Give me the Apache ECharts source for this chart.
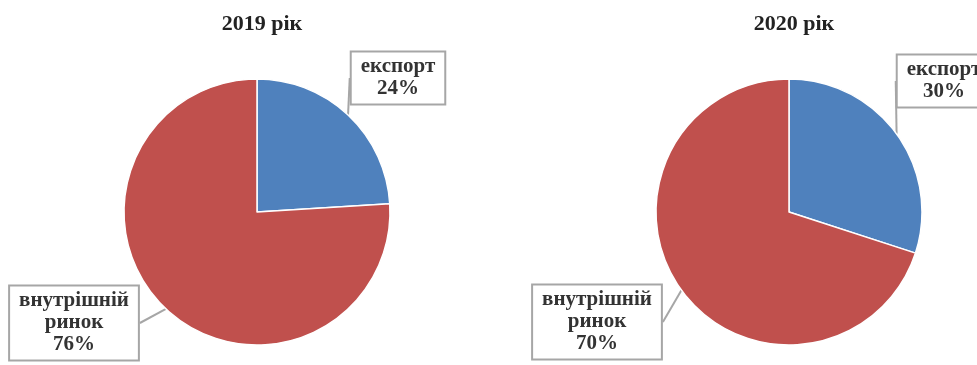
<!DOCTYPE html>
<html>
<head>
<meta charset="utf-8">
<script src="https://cdn.jsdelivr.net/npm/echarts@6/dist/echarts.min.js"></script>
<style>
  html, body { margin: 0; padding: 0; background: #fff; }
  #chart { width: 977px; height: 365px; }
</style>
</head>
<body>
<div id="chart"></div>
<script>
// data
const years = ["2019 рік", "2020 рік"];
const categories = ["експорт", "внутрішній\nринок"];
const shares2019 = [24, 76];
const shares2020 = [30, 70];
const colors = ["#4f81bd", "#c0504d"];

// where the callout boxes sit (px), per pie and slice
const labelSpots = [
    [[398, 78], [74, 323]],
    [[944, 81], [597, 322]],
];

const chart = echarts.init(document.getElementById("chart"));

const centers = [[257, 212], [789, 212]];
const font = "'Liberation Serif', 'DejaVu Serif', serif";

function makeSeries(idx, values) {
    return {
        type: "pie",
        center: centers[idx],
        radius: 133,
        startAngle: 90,
        clockwise: true,
        animation: false,
        data: categories.map((name, i) => ({
            name: name,
            value: values[i],
            itemStyle: { color: colors[i] },
        })),
        itemStyle: { borderColor: "#fff", borderWidth: 1.5 },
        label: {
            show: true,
            formatter: (p) => p.name + "\n" + p.value + "%",
            fontFamily: font,
            fontWeight: "bold",
            fontSize: 21,
            lineHeight: 22,
            color: "#333",
            align: "center",
            overflow: "none",
            bleedMargin: -400,
            backgroundColor: "#fff",
            borderColor: "#a6a6a6",
            borderWidth: 2,
            padding: [4, 9, 3, 9],
        },
        labelLine: {
            show: true,
            length: 10,
            length2: 0,
            lineStyle: { color: "#a6a6a6", width: 2 },
        },
        labelLayout: (p) => {
            const spot = labelSpots[idx][p.dataIndex];
            return {
                x: spot[0],
                y: spot[1],
                align: "center",
                verticalAlign: "middle",
            };
        },
        emphasis: { disabled: true },
    };
}

const option = {
    backgroundColor: "#ffffff",
    title: years.map((t, i) => ({
        text: t,
        left: centers[i][0],
        top: 8,
        textAlign: "center",
        textStyle: {
            fontFamily: font,
            fontWeight: "bold",
            fontSize: 22,
            color: "#222",
        },
    })),
    series: [makeSeries(0, shares2019), makeSeries(1, shares2020)],
};

chart.setOption(option);
</script>
</body>
</html>
